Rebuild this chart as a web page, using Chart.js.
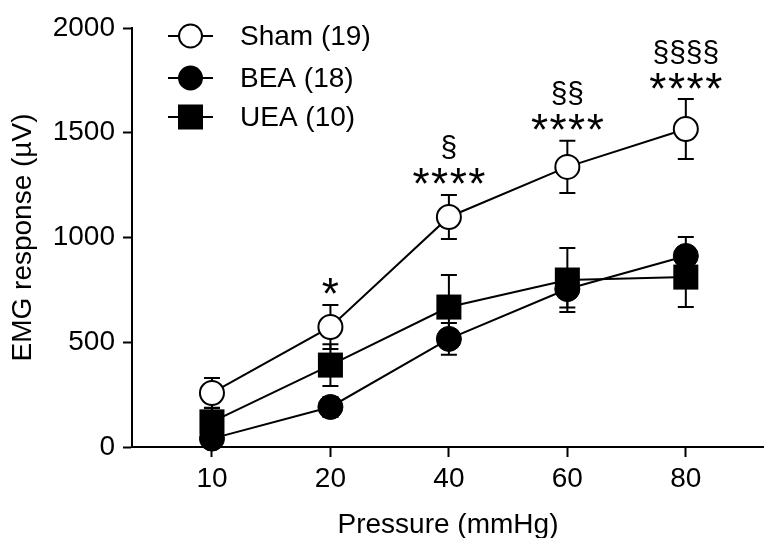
<!DOCTYPE html>
<html>
<head>
<meta charset="utf-8">
<script src="https://cdn.jsdelivr.net/npm/chart.js@4"></script>
<style>
	html, body { margin: 0; padding: 0; background: #fff; }
	#wrap { width: 764px; height: 538px; }
</style>
</head>
<body>
<div id="wrap"><canvas id="mycanvas" width="764" height="538"></canvas></div>
<script>
// values
var pressure = ['10', '20', '40', '60', '80'];
var shamMean = [258, 573, 1098, 1337, 1518];
var shamSem = [71, 105, 105, 125, 143];
var beaMean = [40, 191, 516, 754, 912];
var beaSem = [30, 48, 76, 88, 90];
var ueaMean = [120, 391, 668, 797, 811];
var ueaSem = [66, 100, 153, 153, 143];
var starMarks = ['', '*', '****', '****', '****'];
var sectionMarks = ['', '', '§', '§§', '§§§§'];
var yTicks = [0, 500, 1000, 1500, 2000];

var FONT = '"Liberation Sans", Arial, sans-serif';

function points(arr) {
	var out = [];
	for (var i in arr) {
		out.push({ x: Number(i), y: arr[i] });
	}
	return out;
}

// error bars, drawn just before each dataset so its markers sit on top
var errorBars = {
	id: 'errorBars',
	beforeDatasetDraw: function(chart, args) {
		var ds = chart.data.datasets[args.index];
		var y = chart.scales.y;
		var ctx = chart.ctx;
		ctx.save();
		ctx.strokeStyle = '#000';
		ctx.lineWidth = 2;
		for (var i = 0; i < ds.data.length; i++) {
			var p = args.meta.data[i];
			var v = ds.data[i].y;
			var top = y.getPixelForValue(v + ds.sem[i]);
			var bot = y.getPixelForValue(v - ds.sem[i]);
			ctx.beginPath();
			ctx.moveTo(p.x, top); ctx.lineTo(p.x, bot);
			ctx.moveTo(p.x - 8, top); ctx.lineTo(p.x + 8, top);
			ctx.moveTo(p.x - 8, bot); ctx.lineTo(p.x + 8, bot);
			ctx.stroke();
		}
		ctx.restore();
	}
};

// significance marks above the Sham error bars
var sigMarks = {
	id: 'sigMarks',
	afterDatasetsDraw: function(chart) {
		var ctx = chart.ctx;
		var meta = chart.getDatasetMeta(0);
		var y = chart.scales.y;
		ctx.save();
		ctx.fillStyle = '#000';
		ctx.textAlign = 'center';
		ctx.textBaseline = 'alphabetic';
		for (var i = 0; i < pressure.length; i++) {
			var px = meta.data[i].x;
			var capY = y.getPixelForValue(shamMean[i] + shamSem[i]);
			var s = starMarks[i];
			if (s) {
				ctx.font = '44px ' + FONT;
				var m = ctx.measureText('*');
				var base = capY - 18.5 + (m.actualBoundingBoxAscent - m.actualBoundingBoxDescent) / 2;
				var gap = 18.6;
				for (var k = 0; k < s.length; k++) {
					ctx.fillText('*', px + (k - (s.length - 1) / 2) * gap, base);
				}
			}
			var g = sectionMarks[i];
			if (g) {
				ctx.font = '30px ' + FONT;
				var m2 = ctx.measureText('§');
				var base2 = capY - 47.5 + (m2.actualBoundingBoxAscent - m2.actualBoundingBoxDescent) / 2;
				ctx.fillText(g, px, base2);
			}
		}
		ctx.restore();
	}
};

// legend with line through marker
var lineLegend = {
	id: 'lineLegend',
	afterDraw: function(chart) {
		var ctx = chart.ctx;
		var rows = [36, 78, 117];
		ctx.save();
		chart.data.datasets.forEach(function(ds, i) {
			var yy = rows[i];
			ctx.strokeStyle = '#000';
			ctx.lineWidth = 2;
			ctx.beginPath();
			ctx.moveTo(168, yy); ctx.lineTo(213, yy);
			ctx.stroke();
			ctx.fillStyle = ds.pointBackgroundColor;
			if (ds.pointStyle === 'rect') {
				ctx.fillRect(178, yy - 12.5, 25, 25);
			} else {
				ctx.beginPath();
				ctx.arc(190.5, yy, 11.5, 0, Math.PI * 2);
				ctx.fill();
				ctx.stroke();
			}
			ctx.fillStyle = '#000';
			ctx.font = '28px ' + FONT;
			ctx.textAlign = 'left';
			ctx.textBaseline = 'middle';
			ctx.fillText(ds.label, 240, yy + 1);
		});
		ctx.restore();
	}
};

var chartdata = {
	datasets: [
		{
			label: 'Sham (19)',
			data: points(shamMean),
			sem: shamSem,
			borderColor: '#000',
			borderWidth: 2,
			pointStyle: 'circle',
			pointRadius: 12,
			pointBorderWidth: 2,
			pointBorderColor: '#000',
			pointBackgroundColor: '#fff',
			clip: false
		},
		{
			label: 'BEA (18)',
			data: points(beaMean),
			sem: beaSem,
			borderColor: '#000',
			borderWidth: 2,
			pointStyle: 'circle',
			pointRadius: 12.5,
			pointBorderWidth: 1,
			pointBorderColor: '#000',
			pointBackgroundColor: '#000',
			clip: false
		},
		{
			label: 'UEA (10)',
			data: points(ueaMean),
			sem: ueaSem,
			borderColor: '#000',
			borderWidth: 2,
			pointStyle: 'rect',
			pointRadius: 17.7,
			pointBorderWidth: 0,
			pointBorderColor: '#000',
			pointBackgroundColor: '#000',
			clip: false
		}
	]
};

// draw Sham on top, then UEA, then BEA
chartdata.datasets[0].order = 0;
chartdata.datasets[1].order = 2;
chartdata.datasets[2].order = 1;

var ctx = document.getElementById('mycanvas');

var LineGraph = new Chart(ctx, {
	type: 'line',
	data: chartdata,
	plugins: [errorBars, sigMarks, lineLegend],
	options: {
		responsive: false,
		animation: false,
		devicePixelRatio: 1,
		layout: { autoPadding: false, padding: { top: 28, right: 0, left: 0, bottom: 0 } },
		plugins: {
			legend: { display: false },
			tooltip: { enabled: false }
		},
		elements: { line: { tension: 0 } },
		scales: {
			x: {
				type: 'linear',
				min: -0.675,
				max: 4.66,
				afterBuildTicks: function(scale) {
					scale.ticks = pressure.map(function(p, i) { return { value: i }; });
				},
				afterFit: function(scale) {
					scale.height = 91;
					scale.paddingLeft = 0;
					scale.paddingRight = 0;
				},
				grid: {
					drawOnChartArea: false,
					tickLength: 10,
					tickWidth: 2,
					tickColor: '#000'
				},
				border: { display: true, color: '#000', width: 2 },
				ticks: {
					color: '#000',
					padding: 5,
					maxRotation: 0,
					font: { family: FONT, size: 28 },
					callback: function(v) { return pressure[v]; }
				},
				title: {
					display: true,
					text: 'Pressure (mmHg)',
					color: '#000',
					font: { family: FONT, size: 28, lineHeight: 1 },
					padding: { top: 0, bottom: -1 }
				}
			},
			y: {
				min: 0,
				max: 2000,
				afterBuildTicks: function(scale) {
					scale.ticks = yTicks.map(function(v) { return { value: v }; });
				},
				afterFit: function(scale) {
					scale.width = 132;
					scale.paddingTop = 0;
					scale.paddingBottom = 0;
				},
				grid: {
					drawOnChartArea: false,
					tickLength: 9,
					tickWidth: 2,
					tickColor: '#000'
				},
				border: { display: true, color: '#000', width: 2 },
				ticks: {
					color: '#000',
					padding: 8,
					font: { family: FONT, size: 28 },
					callback: function(v) { return String(v); }
				},
				title: {
					display: true,
					text: 'EMG response (µV)',
					color: '#000',
					font: { family: FONT, size: 28, lineHeight: 1.2 },
					padding: { top: 6, bottom: 0 }
				}
			}
		}
	}
});
</script>
</body>
</html>
